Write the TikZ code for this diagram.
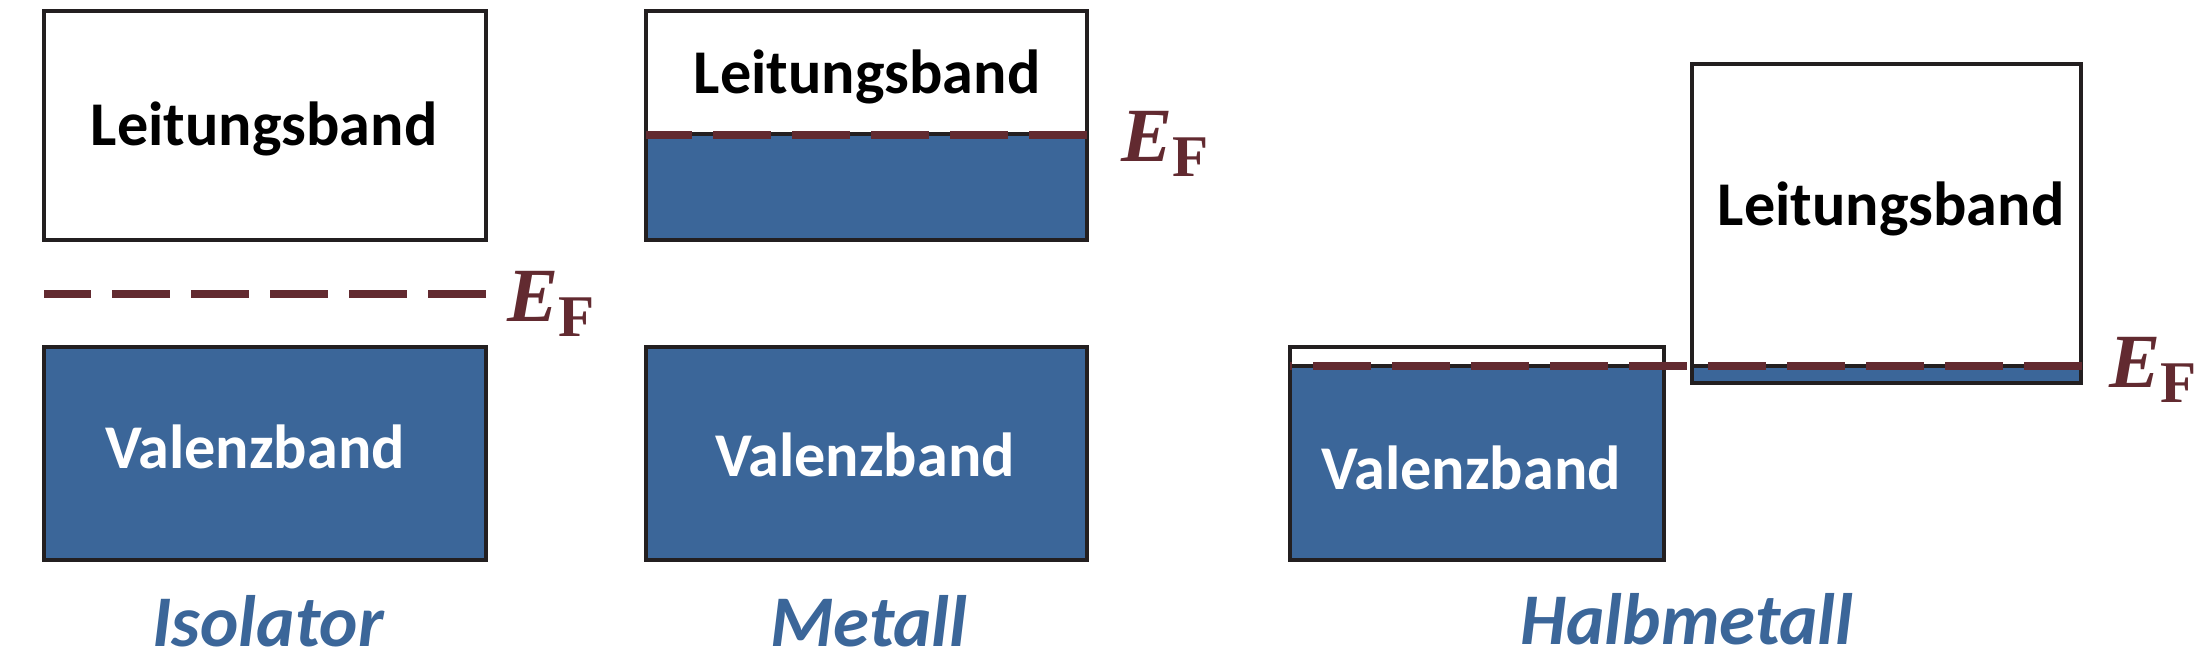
\documentclass[tikz,border=0pt]{standalone}
\usepackage{fontspec}
\setmainfont{Carlito}
\newfontfamily\eflfont{Liberation Serif}
\usetikzlibrary{positioning}
\definecolor{bandblue}{HTML}{3B6699}
\definecolor{fermired}{HTML}{622A30}
\definecolor{edge}{HTML}{231F20}
\tikzstyle{band} = [draw=edge, line width=1.15pt, fill=white]
\tikzstyle{filled} = [draw=edge, line width=1.15pt, fill=bandblue]
\tikzstyle{fermi} = [draw=fermired, line width=2.4pt, dash pattern=on 0.58cm off 0.21cm]
\tikzstyle{blabel} = [anchor=base, inner sep=0pt, font=\bfseries\fontsize{17.7pt}{18pt}\selectfont]
\tikzstyle{title} = [anchor=base, inner sep=0pt, text=bandblue, font=\bfseries\itshape\fontsize{20.7pt}{21pt}\selectfont]
\tikzstyle{eflabel} = [anchor=base west, inner sep=0pt, text=fermired]
\newcommand{\efermi}{{\eflfont\fontsize{21.8pt}{22pt}\selectfont\bfseries\itshape E\raisebox{-0.15cm}{\upshape\fontsize{16.8pt}{17pt}\selectfont F}}}

\begin{document}
\begin{tikzpicture}[x=0.01cm, y=-0.01cm]
    \useasboundingbox (0,0) rectangle (2208,671);
    % Isolator
    \draw [band] (44,11) rectangle (486,240);
    \draw [filled] (44,347) rectangle (486,560);
    \draw [fermi] (486,294) -- (44,294);
    \node (isoCB) [blabel] at (264,146) {Leitungsband};
    \node (isoVB) [blabel, text=white] at (255,469) {Valenzband};
    \node (isoEF) [eflabel] at (507,322) {\efermi};
    \node (isoName) [title] at (268,647) {Isolator};
    % Metall
    \draw [band] (646,11) rectangle (1087,240);
    \draw [filled] (646,134) rectangle (1087,240);
    \draw [filled] (646,347) rectangle (1087,560);
    \draw [fermi] (1087,135) -- (646,135);
    \node (metCB) [blabel] at (867,94) {Leitungsband};
    \node (metVB) [blabel, text=white] at (865,477) {Valenzband};
    \node (metEF) [eflabel] at (1121,162) {\efermi};
    \node (metName) [title] at (869,647) {Metall};
    % Halbmetall
    \draw [band] (1290,347) rectangle (1664,560);
    \draw [filled] (1290,366) rectangle (1664,560);
    \draw [band] (1692,64) rectangle (2081,383);
    \draw [filled] (1692,366) rectangle (2081,383);
    \draw [fermi] (2082,366) -- (1290,366);
    \node (halbCB) [blabel] at (1891,226) {Leitungsband};
    \node (halbVB) [blabel, text=white] at (1471,490) {Valenzband};
    \node (halbEF) [eflabel] at (2109,388) {\efermi};
    \node (halbName) [title] at (1687,645) {Halbmetall};
\end{tikzpicture}
\end{document}
